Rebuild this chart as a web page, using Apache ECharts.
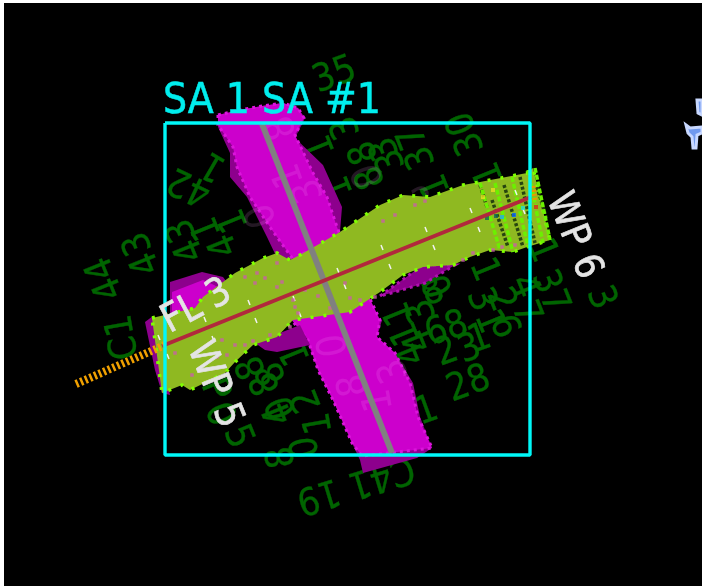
<!DOCTYPE html>
<html><head><meta charset="utf-8">
<script src="https://cdn.jsdelivr.net/npm/echarts@6/dist/echarts.min.js"></script>
<style>html,body{margin:0;padding:0;background:#fff}#c{width:702px;height:586px;filter:blur(0.4px)}</style>
</head><body><div id="c"></div>
<script>
// --- map data, in screen-like map units
const crossDark = [[218,115],[240,110],[262,106],[283,103],[298,108],[305,118],[295,138],[323,165],[342,207],[340,232],[300,270],[300,320],[382,320],[377,337],[395,353],[413,383],[420,417],[432,448],[417,458],[363,473],[360,460],[352,443],[345,427],[333,400],[318,370],[308,343],[297,300],[267,237],[247,197],[230,177],[230,153],[218,127]];
const crossBright = [[218,115],[240,110],[262,106],[283,103],[298,108],[304,118],[295,135],[313,173],[327,197],[337,227],[342,240],[380,320],[377,337],[395,353],[410,383],[418,417],[432,448],[362,456],[352,443],[345,427],[333,400],[318,370],[308,340],[290,318],[295,262],[272,230],[250,197],[237,167],[233,147],[218,125]];
const purpleUpper = [[170,282],[202,272],[223,277],[240,300],[200,330],[170,317]];
const magentaUpper = [[172,292],[203,280],[214,285],[240,300],[195,322],[172,320]];
const purpleEnd = [[145,322],[153,316],[170,395],[162,393],[155,370]];
const purpleLower = [[380,296],[423,265],[455,265],[425,283],[395,292]];
const purpleMid = [[255,343],[300,325],[310,345],[277,352],[265,350]];
const band = [[152,318],[195,308],[203,297],[235,273],[263,258],[277,253],[290,260],[300,255],[340,232],[380,205],[403,195],[430,197],[463,185],[480,182],[527,173],[533,168],[550,240],[527,247],[513,252],[490,250],[470,257],[453,265],[423,267],[403,275],[380,292],[350,312],[293,320],[277,337],[253,345],[235,362],[225,373],[190,390],[182,385],[162,393]];
const stripeBright = [[480,183,500,250],[495,183,513,252],[512,177,528,247],[528,170,543,243],[535,168,550,240]];
const stripeDark = [[480,185,487,207],[492,200,508,247],[504,185,523,247],[520,177,535,243],[537,187,547,220]];
const whiteTicks = [[158,335,160,340],[167,354,169,359],[204,317,206,322],[212,336,214,341],[248,300,250,305],[255,318,257,323],[293,296,295,301],[299,312,301,317],[337,268,339,273],[344,284,346,289],[381,245,383,250],[389,264,391,269],[425,227,427,232],[433,245,435,250],[470,208,472,213],[478,227,480,232],[515,190,517,195],[523,209,525,214]];
const pinkDots = [[277,263],[257,273],[245,277],[265,278],[282,282],[277,287],[255,283],[293,300],[295,307],[298,313],[290,327],[270,335],[253,341],[235,345],[222,340],[245,345],[227,355],[217,357],[175,353],[192,375],[415,205],[425,201],[395,215],[383,221],[463,260],[473,253],[493,250],[502,247],[515,245],[345,283],[350,298],[360,300],[375,297],[305,290],[318,296],[330,308]];
const signalDots = [[502,217,'#19b5e8'],[514,215,'#0a66ff'],[536,207,'#e02020'],[493,190,'#e8e020'],[483,197,'#e8e020'],[523,208,'#22e0d0'],[496,216,'#116655'],[487,218,'#116655']];
const approachPath = [[76,384],[165,345]];
const endMark = [[533,186],[535,200]];
const redPath = [[162,346],[531,197]];
const grayPath = [[262,124],[392,453]];
const boxPath = [[165,123],[530,123],[530,455],[165,455],[165,123]];
const bluePartA = [[697,100],[702,100],[702,115],[698,113]];
const bluePartB = [[686,125],[690,128],[702,127],[702,133],[697,135],[696,148],[693,148],[692,137],[688,133]];
// label, x, y, rotation in degrees
const greenLabels = [
 ['35',335,76,20],['3',347,127,112],['1',322,146,112],['1',340,187,112],['30',467,133,112],['37',418,147,112],
 ['8',365,152,112],['3',392,160,112],['8',372,177,112],['3',386,148,112],['1',437,185,112],['1',490,173,112],
 ['44',106,278,112],['43',143,253,112],['C1',124,337,100],
 ['42',190,185,155],['1',214,165,150],['43',187,240,112],['1',208,228,112],['4',225,245,112],['1',235,220,112],
 ['1',400,313,112],['3',423,310,112],['8',433,293,20],['0',440,285,112],['3',480,300,-68],['2',500,300,-68],['6',503,327,-68],['1',483,270,-68],['1',488,322,-68],
 ['8',457,327,20],['6',437,333,20],['2',447,353,20],['3',470,350,20],['1',480,340,20],['4',413,353,112],['1',407,333,112],['4',420,340,112],
 ['28',469,385,20],['1',427,412,20],
 ['37',549,292,-68],['4',523,287,-68],['7',525,313,-68],['3',600,298,-68],['1',541,251,-68],
 ['C41 19',355,483,197],
 ['8',253,367,112],['8',273,373,112],['8',267,383,112],['4',280,413,112],['0',283,407,112],['2',308,400,112],['1',297,353,112],
 ['8',283,457,100],['0',307,447,100],['1',320,423,100],['5',237,437,-68],['0',218,415,-68],['P',214,390,-68]
];
const faintLabels = [['8',283,127,110],['1',290,175,110],['0',263,215,110],['3',310,190,110],['8',355,385,100],['0',335,345,100],['1',380,400,100],['3',395,370,110],['0',370,175,110],['3',425,205,20],['8',310,270,20],['0',450,250,20]];
const whiteLabels = [['FL 3',197,307,28],['WP 5',214,385,-68],['WP 6',573,236,-68]];
const titleLabel = [['SA 1 SA #1',272,102,0]];

const path = (name,pts,color,width,z,extra) => Object.assign({type:'line',name,data:pts,z,showSymbol:false,silent:true,
  lineStyle:{color,width,cap:'butt'}},extra||{});
const poly = (pts,fill,stroke,z,dash,sw) => ({type:'custom',data:pts,z,silent:true,encode:{x:0,y:1},
  renderItem(p,api){ if(p.dataIndex!==0) return {type:'group',children:[]};
    return {type:'polygon',shape:{points:pts.map(q=>api.coord(q))},
      style:{fill,stroke:stroke||null,lineWidth:stroke?(sw||3):0,lineDash:dash||null}};}});
const segs = (rows,color,width,z,dash) => ({type:'custom',data:rows,z,silent:true,encode:{x:[0,2],y:[1,3]},
  renderItem(p,api){const a=api.coord([api.value(0),api.value(1)]),b=api.coord([api.value(2),api.value(3)]);
    return {type:'line',shape:{x1:a[0],y1:a[1],x2:b[0],y2:b[1]},style:{stroke:color,lineWidth:width,lineDash:dash||null}};}});
const texts = (rows,fill,size,z,weight) => ({type:'custom',data:rows.map(r=>[r[1],r[2],r[3]]),z,silent:true,encode:{x:0,y:1},
  renderItem(p,api){const c=api.coord([api.value(0),api.value(1)]);
    return {type:'text',x:c[0],y:c[1],rotation:api.value(2)*Math.PI/180,scaleY:1.12,
      style:{text:rows[p.dataIndex][0],fill,stroke:weight?fill:null,lineWidth:weight||0,font:size+'px "DejaVu Sans"',align:'center',verticalAlign:'middle'}};}});

const chart = echarts.init(document.getElementById('c'));
chart.setOption({animation:false,backgroundColor:'#000',
 grid:{left:0,right:0,top:0,bottom:0},
 xAxis:{type:'value',min:0,max:702,show:false},
 yAxis:{type:'value',min:0,max:586,inverse:true,show:false},
 graphic:[{type:'rect',shape:{x:0,y:0,width:4,height:586},style:{fill:'#fff'},z:100},
          {type:'rect',shape:{x:0,y:0,width:702,height:3},style:{fill:'#fff'},z:100}],
 series:[
  texts(greenLabels,'#006400',34,1,0.3),
  poly(crossDark,'#8d008d',null,2),
  poly(crossBright,'#cc00cc','#dc14dc',3,[3,4]),
  texts(faintLabels,'rgba(255,170,255,0.14)',36,4),
  poly(purpleUpper,'#8d008d',null,4),
  poly(magentaUpper,'#cc00cc',null,4),
  poly(purpleEnd,'#8d008d',null,4),
  poly(purpleLower,'#8d008d','#b010b0',4,[3,4]),
  poly(purpleMid,'#8d008d',null,4),
  poly(band,'#8fb921',null,5),
  poly(band,'rgba(0,0,0,0)','#7fff00',6,[3,10],3.5),
  segs(stripeDark,'#26440f',3.5,7,[3,2]),
  segs(stripeBright,'#6cf000',3.5,8,[5,2]),
  {type:'scatter',data:pinkDots,symbol:'rect',symbolSize:3.5,z:9,silent:true,itemStyle:{color:'#c860a8'}},
  segs(whiteTicks,'#f2f2f2',1.5,9),
  {type:'scatter',data:signalDots,symbol:'rect',symbolSize:4,z:9,silent:true,encode:{x:0,y:1},
   itemStyle:{color:p=>p.data[2]}},
  path('gray',grayPath,'#808080',6,10),
  path('red',redPath,'#b1283c',4,11),
  path('approach',approachPath,'#f0a000',8,11,{lineStyle:{color:'#f0a000',width:8,type:[2.5,2.5]}}),
  path('end',endMark,'#e89a00',5,11,{lineStyle:{color:'#e89a00',width:5,type:[2,2]}}),
  path('box',boxPath,'#00f8f8',3.4,12),
  texts(titleLabel,'#00eeee',38,13,0.5),
  texts(whiteLabels,'#e4e4e4',35,13,0.6),
  poly(bluePartA,'#7099ee','#c8d8ff',14),
  poly(bluePartB,'#7099ee','#c8d8ff',14)
 ]});
</script></body></html>
